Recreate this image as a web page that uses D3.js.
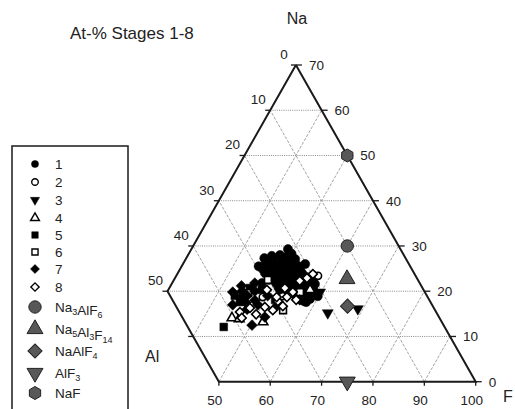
<!DOCTYPE html>
<html><head><meta charset="utf-8">
<script src="https://cdn.jsdelivr.net/npm/d3@7"></script>
<style>
html,body{margin:0;padding:0;background:#fff;}
svg{display:block;font-family:"Liberation Sans",Arial,sans-serif;}
</style></head>
<body>
<svg id="c" width="515" height="409"></svg>
<script>
// ---- DATA (ternary at-%: [F, Na]; Al = 100 - F - Na) ----
const stageLabels = ["1","2","3","4","5","6","7","8"];
const stage1 = [[48.8,29.3],[46.4,27.8],[47.9,28.0],[49.5,27.8],[51.3,27.1],[45.9,26.5],[47.6,26.2],[49.0,26.5],[50.8,26.0],[52.6,25.6],
  [46.1,24.9],[47.6,24.7],[49.0,24.9],[50.7,24.7],[52.5,24.2],[54.2,24.0],[47.9,23.4],[49.4,23.4],[51.1,23.1],[52.8,22.9],[54.4,22.7],
  [56.1,22.5],[50.2,21.8],[51.9,21.6],[53.5,21.4],[55.2,21.2],[56.7,21.2],[57.9,21.6],[58.5,20.0],[57.0,19.6],[55.6,18.9],[59.8,18.9],
  [58.6,18.3],[57.7,17.8],[47.5,21.8],[45.0,25.5],[53.8,26.0],[56.5,23.5],[48.5,22.5],[52.0,20.0],
  [47.0,27.0],[48.7,27.2],[50.3,26.8],[46.8,25.6],[48.3,25.8],[49.9,25.4],[51.6,25.0],[53.3,24.9],[47.0,24.0],[48.6,24.1],
  [50.3,23.8],[52.0,23.7],[53.6,23.3],[55.3,23.2],[49.0,22.7],[50.7,22.4],[52.3,22.2],[54.0,22.0],[55.8,21.8],[57.2,22.2],
  [51.2,20.8],[53.0,20.6],[54.5,20.2],[56.2,20.4],[57.8,19.2],[56.5,18.6],[59.0,19.6],[58.2,17.6],[45.2,27.3],[50.0,28.3]];
const stage2 = [[49.2,18.7],[53.0,18.9],[57.6,23.4]];
const stage3 = [[63.6,15.2],[69.0,16.1],[59.8,19.8]];
const stage4 = [[45.5,14.1],[47.0,13.9],[52.0,13.2],[57.6,20.3]];
const stage5 = [[44.9,12.1],[45.7,20.7],[48.2,20.3],[45.3,17.6],[51.9,18.1],[43.6,19.0]];
const stage6 = [[48.3,22.5],[45.9,19.6],[54.6,15.8],[55.9,19.8]];
const stage7 = [[42.8,19.8],[50.2,12.5],[51.8,14.3],[45.1,18.7],[49.1,17.0],[56.7,18.1],[46.1,21.8],[43.8,21.2],[47.5,16.0],
  [44.5,20.0],[46.0,19.0],[48.0,18.0],[44.2,17.0],[46.5,17.5],[50.0,19.0],[47.0,20.0],[53.0,17.0]];
const stage8 = [[46.4,15.4],[47.9,16.3],[50.7,16.5],[52.6,17.8],[53.9,18.7],[54.5,19.8],[54.6,22.3],[55.7,22.9],[49.2,20.3],
  [52.6,15.8],[54.1,16.7],[47.4,14.1],[49.8,14.9],[52.5,20.7],[51.9,18.7],[56.4,23.8],[56.0,18.1]];
const compoundLabels = ["Na3AlF6","Na5Al3F14","NaAlF4","AlF3","NaF"];
const compoundF  = [60.0, 63.6, 66.7, 75.0, 50.0];
const compoundNa = [30.0, 22.7, 16.7, 0.0, 50.0];
const fTicks  = [50,60,70,80,90,100];
const naTicks = [0,10,20,30,40,50,60,70];
const alTicks = [0,10,20,30,40,50];

// ---- SCALES / PROJECTION ----
const svg = d3.select("#c");
const xS = d3.scaleLinear().domain([40,100]).range([167.5,475.7]);
const yS = d3.scaleLinear().domain([0,70]).range([381.7,65]);
const P = (F, Na) => [xS(F + Na/2), yS(Na)];
const line = d3.line();

// ---- GRID ----
const g = svg.append("g");
[10,20,30,40,50,60].forEach(na => {
  const Fl = na >= 20 ? 30 : 50 - na;
  g.append("path").attr("d", line([P(Fl, na), P(100 - na, na)]))
    .attr("stroke","#888").attr("stroke-width",1).attr("stroke-dasharray","1,1.2").attr("fill","none");
});
[40,50,60,70,80,90].forEach(f => {
  const naStart = f >= 50 ? 0 : 50 - f;
  g.append("path").attr("d", line([P(f, naStart), P(f, 100 - f)]))
    .attr("stroke","#999").attr("stroke-width",0.9).attr("stroke-dasharray","3,1.5").attr("fill","none");
});
[10,20,30,40].forEach(al => {
  g.append("path").attr("d", line([P(100 - al, 0), P(30, 70 - al)]))
    .attr("stroke","#999").attr("stroke-width",0.9).attr("stroke-dasharray","3,1.5").attr("fill","none");
});

// ---- FRAME ----
const frame = [P(30,70), P(30,20), P(50,0), P(100,0), P(30,70)];
g.append("path").attr("d", line(frame)).attr("stroke","#1a1a1a").attr("stroke-width",2).attr("fill","none");

// ---- TICKS & LABELS ----
const tk = svg.append("g").attr("stroke","#1a1a1a").attr("stroke-width",1.3);
const lab = svg.append("g").attr("fill","#222").attr("font-size","13.5px");
fTicks.forEach(f => {
  const [x,y] = P(f,0);
  tk.append("line").attr("x1",x).attr("x2",x).attr("y1",y).attr("y2",y+4);
  lab.append("text").attr("x",x-4).attr("y",y+23).attr("text-anchor","middle").text(f);
});
naTicks.forEach(na => {
  const [x,y] = P(100-na, na);
  tk.append("line").attr("x1",x).attr("x2",x+6).attr("y1",y).attr("y2",y);
  lab.append("text").attr("x",x+13).attr("y",y+5).text(na);
});
alTicks.forEach(al => {
  const [x,y] = P(30, 70-al);
  tk.append("line").attr("x1",x-5).attr("x2",x).attr("y1",y).attr("y2",y);
  lab.append("text").attr("x",x-12).attr("y",y-6).attr("text-anchor","middle").text(al);
});
{ const [x,y] = P(40,10); tk.append("line").attr("x1",x-5).attr("x2",x).attr("y1",y).attr("y2",y); }

svg.append("text").attr("x",297).attr("y",24).attr("text-anchor","middle").attr("font-size","16px").attr("fill","#222").text("Na");
svg.append("text").attr("x",503).attr("y",402).attr("font-size","16px").attr("fill","#222").text("F");
svg.append("text").attr("x",145).attr("y",362).attr("font-size","16px").attr("fill","#222").text("Al");
svg.append("text").attr("x",70).attr("y",39).attr("font-size","17px").attr("fill","#222").text("At-% Stages 1-8");

// ---- SYMBOLS ----
const hexPath = r => {
  const pts = d3.range(6).map(i => { const a = Math.PI/6 + i*Math.PI/3; return [r*Math.cos(a), r*Math.sin(a)]; });
  return "M" + pts.join("L") + "Z";
};
const stageStyles = [
  {sym:d3.symbolCircle,   size:66, rot:0,   fill:"#000"},
  {sym:d3.symbolCircle,   size:40, rot:0,   fill:"#fff"},
  {sym:d3.symbolTriangle, size:52, rot:180, fill:"#000"},
  {sym:d3.symbolTriangle, size:40, rot:0,   fill:"#fff"},
  {sym:d3.symbolSquare,   size:60, rot:0,   fill:"#000"},
  {sym:d3.symbolSquare,   size:46, rot:0,   fill:"#fff"},
  {sym:d3.symbolSquare,   size:58, rot:45,  fill:"#000"},
  {sym:d3.symbolSquare,   size:40, rot:45,  fill:"#fff"}
];
const legendScale = [0.6,0.85,0.7,0.85,0.7,0.8,0.7,0.85];
const compStyles = [
  {path:d3.symbol(d3.symbolCircle,120)(), rot:0},
  {path:d3.symbol(d3.symbolTriangle,110)(), rot:0},
  {path:d3.symbol(d3.symbolSquare,100)(), rot:45},
  {path:d3.symbol(d3.symbolTriangle,110)(), rot:180},
  {path:hexPath(6.5), rot:0}
];
const stages = [stage1,stage2,stage3,stage4,stage5,stage6,stage7,stage8];
const pts = svg.append("g");
stages.forEach((data, i) => {
  const st = stageStyles[i];
  const p = d3.symbol(st.sym, st.size)();
  pts.selectAll(null).data(data).enter().append("path")
    .attr("d", p)
    .attr("transform", d => { const [x,y] = P(d[0], d[1]); return `translate(${x},${y}) rotate(${st.rot})`; })
    .attr("fill", st.fill).attr("stroke","#000").attr("stroke-width", st.fill === "#fff" ? 1.6 : 0.5);
});
compoundLabels.forEach((c, i) => {
  const [x,y] = P(compoundF[i], compoundNa[i]);
  pts.append("path").attr("d", compStyles[i].path)
    .attr("transform", `translate(${x},${y}) rotate(${compStyles[i].rot})`)
    .attr("fill","#585858").attr("stroke","#222").attr("stroke-width",1);
});

// ---- LEGEND ----
const lg = svg.append("g");
lg.append("rect").attr("x",12).attr("y",146).attr("width",116).attr("height",275)
  .attr("fill","none").attr("stroke","#1a1a1a").attr("stroke-width",1.5);
const rowY = [164,182,200,218,235,252,269,287,307,329,351,373,393];
stageLabels.forEach((s, i) => {
  const st = stageStyles[i];
  lg.append("path").attr("d", d3.symbol(st.sym, st.size*legendScale[i])())
    .attr("transform", `translate(35,${rowY[i]}) rotate(${st.rot})`)
    .attr("fill", st.fill).attr("stroke","#000").attr("stroke-width", st.fill === "#fff" ? 1.4 : 0.5);
  lg.append("text").attr("x",55).attr("y",rowY[i]+5).attr("font-size","13.5px").attr("fill","#222").text(s);
});
const chem = label => label.match(/[A-Z][a-z]?|\d+/g);
compoundLabels.forEach((c, i) => {
  const y = rowY[8+i];
  lg.append("path").attr("d", compStyles[i].path)
    .attr("transform", `translate(35,${y}) rotate(${compStyles[i].rot})`)
    .attr("fill","#585858").attr("stroke","#222").attr("stroke-width",1);
  const t = lg.append("text").attr("x",55).attr("y",y+5).attr("font-size","13.5px").attr("fill","#222");
  chem(c).forEach(tok => {
    if (/\d/.test(tok)) t.append("tspan").attr("font-size","9px").attr("dy",3).text(tok);
    else t.append("tspan").attr("dy", t.node().lastChild && /\d/.test(t.node().lastChild.textContent) ? -3 : 0).text(tok);
  });
});
</script>
</body></html>
